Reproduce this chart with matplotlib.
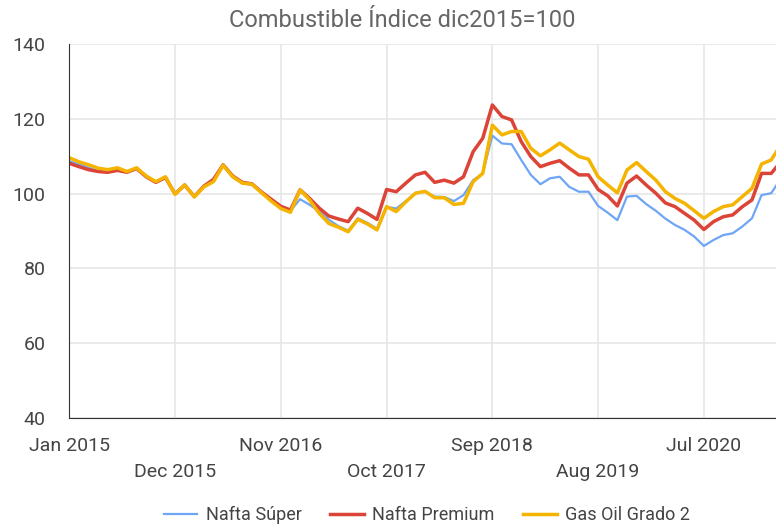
import matplotlib
matplotlib.use("Agg")
import matplotlib.pyplot as plt
import numpy as np

plt.rcParams['font.family'] = ['Roboto', 'DejaVu Sans']

# Meses desde ene 2015 (0 = Jan 2015)
nafta_super = [108.7, 107.8, 106.9, 106.0, 105.8, 106.3, 105.8, 106.7, 104.6, 103.0,
               104.3, 99.9, 102.2, 99.2, 101.8, 103.3, 107.4, 104.4, 102.7, 102.4,
               100.2, 98.2, 96.4, 95.4, 98.5, 97.0, 95.2, 93.0, 91.3, 90.1,
               93.4, 92.2, 90.6, 96.5, 96.0, 98.0, 100.2, 100.6, 99.2, 99.1,
               98.0, 99.6, 103.6, 105.4, 115.5, 113.4, 113.2, 109.0, 105.0, 102.5,
               104.1, 104.5, 101.8, 100.5, 100.5, 96.7, 94.9, 92.9, 99.2, 99.4,
               97.2, 95.4, 93.3, 91.6, 90.3, 88.5, 86.0, 87.6, 88.9, 89.4,
               91.2, 93.4, 99.6, 100.1, 104.0]
nafta_premium = [108.1, 107.2, 106.4, 105.9, 105.7, 106.2, 105.7, 106.7, 104.5, 103.0,
                 104.3, 99.9, 102.3, 99.2, 102.0, 103.8, 107.7, 104.7, 103.0, 102.6,
                 100.4, 98.5, 96.6, 95.6, 101.0, 98.7, 96.1, 94.0, 93.2, 92.5,
                 96.1, 94.7, 93.1, 101.1, 100.5, 102.8, 105.0, 105.7, 103.0, 103.6,
                 102.8, 104.5, 111.2, 114.8, 123.7, 120.6, 119.7, 113.9, 109.9, 107.2,
                 108.1, 108.8, 106.8, 105.0, 105.0, 101.1, 99.4, 96.7, 102.8, 104.7,
                 102.3, 100.1, 97.5, 96.5, 94.7, 92.9, 90.4, 92.5, 93.8, 94.3,
                 96.5, 98.3, 105.4, 105.4, 108.5]
gas_oil = [109.6, 108.5, 107.7, 106.8, 106.4, 106.9, 105.9, 106.9, 104.7, 103.2,
           104.5, 99.8, 102.3, 99.1, 101.8, 103.2, 107.6, 104.5, 102.8, 102.5,
           100.2, 98.0, 96.0, 95.0, 101.0, 98.3, 94.7, 92.0, 91.0, 89.8,
           93.1, 91.9, 90.3, 96.5, 95.2, 97.8, 100.1, 100.6, 98.9, 98.9,
           97.1, 97.4, 103.2, 105.4, 118.3, 115.7, 116.6, 116.6, 112.1, 110.1,
           111.7, 113.5, 111.7, 109.9, 109.2, 104.5, 102.3, 100.2, 106.3, 108.3,
           105.9, 103.6, 100.5, 98.7, 97.4, 95.4, 93.4, 95.2, 96.5, 97.0,
           99.2, 101.4, 107.9, 109.0, 113.0]

tick_months = [0, 11, 22, 33, 44, 55, 66]
tick_labels = ['Jan 2015', 'Dec 2015', 'Nov 2016', 'Oct 2017', 'Sep 2018', 'Aug 2019', 'Jul 2020']

meses = np.arange(len(nafta_super))

fig = plt.figure(figsize=(7.76, 5.28), dpi=100)
ax = fig.add_axes([0.0893, 0.2083, 0.9107, 0.7084])

ax.plot(meses, nafta_super, color='#6ea6f5', lw=1.6, label='Nafta Súper', solid_joinstyle='round')
ax.plot(meses, nafta_premium, color='#db4437', lw=2.5, label='Nafta Premium', solid_joinstyle='round')
ax.plot(meses, gas_oil, color='#f4b400', lw=2.5, label='Gas Oil Grado 2', solid_joinstyle='round')

ax.set_xlim(0, 73.5)
ax.set_ylim(40, 140)
ax.set_yticks([40, 60, 80, 100, 120, 140])

# etiquetas alternadas en dos filas
labels = [lab if i % 2 == 0 else '\n' + lab for i, lab in enumerate(tick_labels)]
ax.set_xticks(tick_months)
ax.set_xticklabels(labels, linespacing=1.55)

ax.grid(True, color='#e6e6e6', lw=1.2)
ax.set_axisbelow(True)
for s in ['top', 'right']:
    ax.spines[s].set_visible(False)
ax.spines['left'].set_color('#333333')
ax.spines['bottom'].set_color('#333333')
ax.tick_params(axis='both', length=0, labelsize=14, colors='#444444')
ax.tick_params(axis='y', pad=17)
ax.tick_params(axis='x', pad=14)

fig.text(0.518, 0.962, 'Combustible Índice dic2015=100', ha='center', va='center',
         fontsize=17, color='#666666')

fig.legend(loc='center', bbox_to_anchor=(0.55, 0.025), ncol=3, frameon=False,
           fontsize=13, labelcolor='#444444', handlelength=1.85, columnspacing=1.6,
           handletextpad=0.45)

plt.savefig('out.png', dpi=100)
